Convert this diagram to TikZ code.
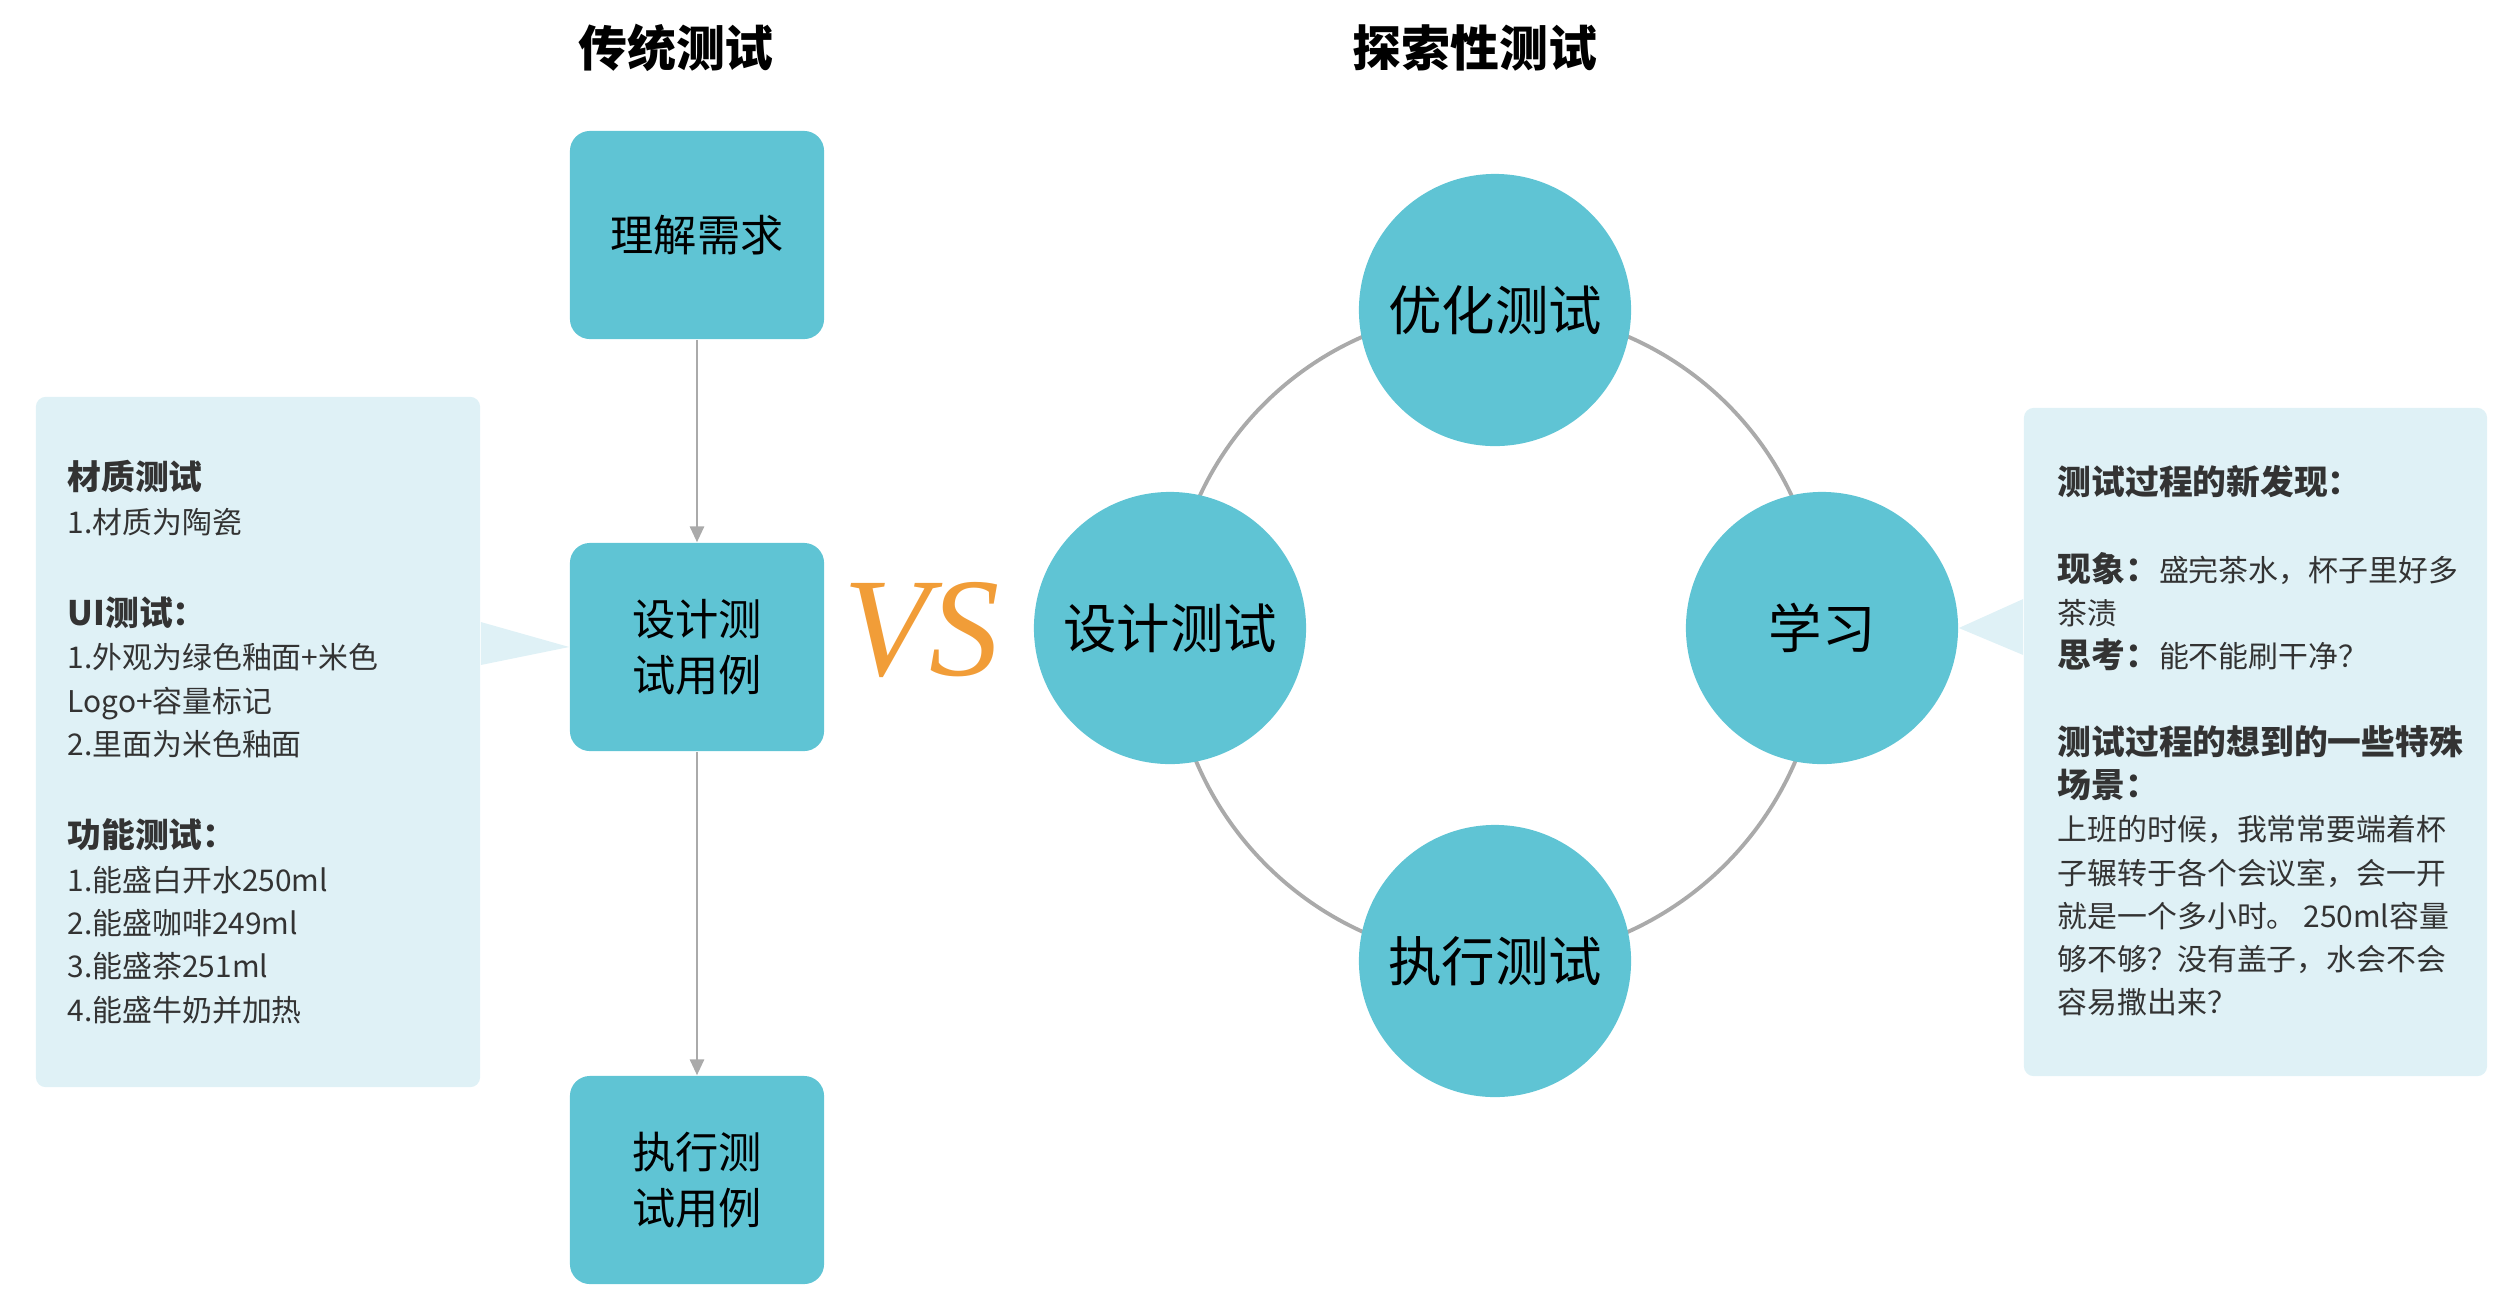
\documentclass[tikz,border=0pt]{standalone}
\usepackage{fontspec}
\setmainfont{Noto Sans CJK SC}
\newfontfamily\vsfont{Liberation Serif}
\usepackage{xcolor}
\usepackage{tikz}
\usetikzlibrary{shapes,arrows.meta,positioning,calc,backgrounds}
\definecolor{boxteal}{RGB}{95, 196, 212}
\definecolor{notebg}{RGB}{223, 241, 246}
\definecolor{ringgray}{RGB}{170, 170, 170}
\definecolor{vsorange}{RGB}{241, 157, 56}
\definecolor{textdark}{RGB}{51, 51, 51}
\newcommand{\notehead}[1]{{\fontsize{9.6pt}{12.3pt}\selectfont\bfseries #1}}

\begin{document}
\begin{tikzpicture}[x=0.01cm, y=-0.01cm,
    flowbox/.style={fill=boxteal, rounded corners=0.2cm, minimum width=2.54cm, minimum height=2.08cm,
        inner sep=0, align=center, font=\fontsize{12.3pt}{15.8pt}\selectfont},
    loopnode/.style={circle, fill=boxteal, minimum size=2.72cm, inner sep=0,
        font=\fontsize{15.2pt}{18pt}\selectfont},
    notebox/.style={fill=notebg, rounded corners=0.1cm, inner sep=0},
    notetext/.style={anchor=north west, align=left, inner sep=0, text=textdark,
        font=\fontsize{8.5pt}{12.3pt}\selectfont},
    flowarrow/.style={draw=ringgray, line width=0.7pt, -{Triangle[length=4.5pt, width=4pt]}},
    title/.style={font=\fontsize{13.9pt}{16pt}\selectfont\bfseries}]
    \useasboundingbox (0,0) rectangle (2514,1308);

    % titles
    \node[title] (tradtitle) at (676,48) {传统测试};
    \node[title] (exptitle) at (1475,48) {探索性测试};

    % traditional flow
    \node[flowbox] (understand) at (697,235) {理解需求};
    \node[flowbox] (designcase) at (697,647) {设计测\\试用例};
    \node[flowbox] (runcase) at (697,1180) {执行测\\试用例};
    \draw[flowarrow] (understand) -- (designcase);
    \draw[flowarrow] (designcase) -- (runcase);

    % left note
    \node[notebox, minimum width=4.44cm, minimum height=6.90cm] (leftnote) at (258,742) {};
    \fill[notebg] (leftnote.east |- 0,622) -- (designcase.west) -- (leftnote.east |- 0,665) -- cycle;
    \node[notetext] (lefttext) at (67,460) {\notehead{材质测试}\\
        1.材质为陶瓷\\[14pt]
        \notehead{UI测试：}\\
        1.外观为绿色釉面+米色\\
        Logo+容量标记\\
        2.里面为米色釉面\\[14pt]
        \notehead{功能测试：}\\
        1.能盛白开水250ml\\
        2.能盛咖啡249ml\\
        3.能盛茶251ml\\
        4.能盛牛奶并加热};

    % vs
    \node[text=vsorange, font=\fontsize{40pt}{42pt}\selectfont\vsfont\itshape] (vs) at (922,630) {VS};

    % exploratory loop
    \node[loopnode] (optimize) at (1495,310) {优化测试};
    \node[loopnode] (design) at (1170,628) {设计测试};
    \node[loopnode] (learn) at (1822,628) {学习};
    \node[loopnode] (execute) at (1495,961) {执行测试};
    \begin{scope}[on background layer]
        \draw[ringgray, line width=1.1pt] (optimize.center) to[bend right=45] (design.center)
            to[bend right=45] (execute.center) to[bend right=45] (learn.center)
            to[bend right=45] (optimize.center);
    \end{scope}

    % right note
    \node[notebox, minimum width=4.63cm, minimum height=6.68cm] (rightnote) at (2255.5,742) {};
    \fill[notebg] (rightnote.west |- 0,599) -- (learn.east) -- (rightnote.west |- 0,655) -- cycle;
    \node[notetext] (righttext) at (2057,465) {\notehead{测试过程的新发现：}\\[12.3pt]
        \notehead{现象：}盛完茶水，杯子里好多\\
        茶渍\\
        \notehead{思考：}能不能刷干净？\\[12.3pt]
        \notehead{测试过程的想到的一些特殊}\\
        \notehead{场景：}\\
        上班的时候，我常常要端着杯\\
        子辗转于各个会议室，会一开\\
        就是一个多小时。 250ml容量\\
        够不够？没有盖子，水会不会\\
        容易撒出来？};
\end{tikzpicture}
\end{document}
